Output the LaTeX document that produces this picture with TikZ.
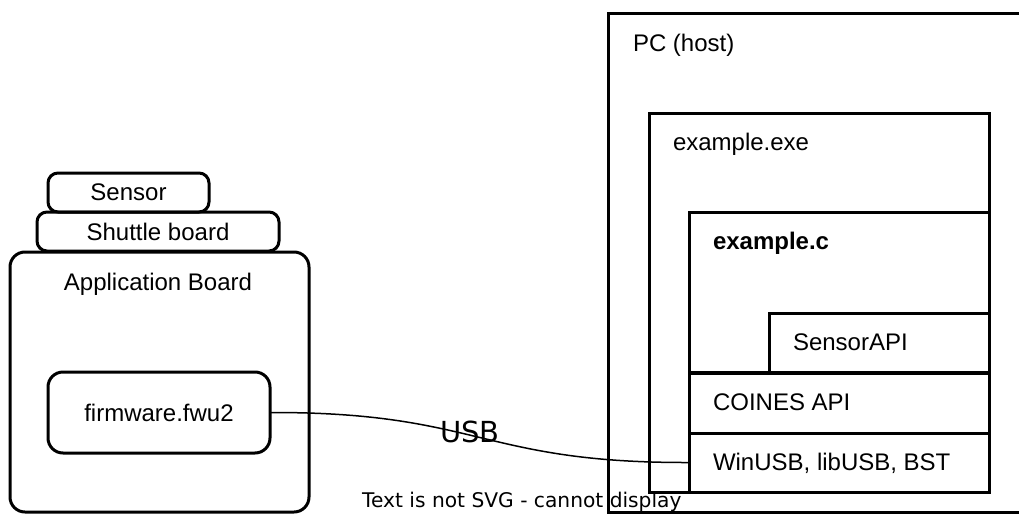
\documentclass[tikz,border=0pt]{standalone}
\usepackage{fontspec}
\setmainfont{Liberation Sans}
\newfontfamily\dejavu{DejaVu Sans}
\begin{document}
\begin{tikzpicture}[x=1pt,y=-1pt,
  box/.style={draw, line width=3pt, inner sep=0pt, outer sep=0pt, anchor=north west, font=\fontsize{24}{28}\selectfont},
  rbox/.style={box, rounded corners=#1},
  lbl/.style={inner sep=0pt, outer sep=0pt, anchor=base west, font=\fontsize{24}{28}\selectfont},
  clbl/.style={lbl, anchor=base},
  wire/.style={draw, line width=1.5pt}]
\clip (0,0) rectangle (1019,514);
% host side
\node[box, minimum width=440pt, minimum height=499pt] (pc) at (608,13) {};
\node[box, minimum width=340pt, minimum height=379pt] (exe) at (649,113) {};
\node[box, minimum width=300pt, minimum height=160pt] (exc) at (689,212) {};
\node[box, minimum width=220pt, minimum height=60pt] (sapi) at (769,313) {};
\node[box, minimum width=300pt, minimum height=60pt] (coines) at (689,373) {};
\node[box, minimum width=300pt, minimum height=59pt] (wusb) at (689,433) {};
\node[lbl] (pct) at (633,51) {PC (host)};
\node[lbl] (exet) at (673,150) {example.exe};
\node[lbl, font=\fontsize{24}{28}\selectfont\bfseries] (exct) at (713,249) {example.c};
\node[lbl] (sapit) at (793,350) {SensorAPI};
\node[lbl] (coinest) at (713,410) {COINES API};
\node[lbl] (wusbt) at (713,470) {WinUSB, libUSB, BST};
% board side
\node[rbox=10pt, minimum width=161pt, minimum height=39pt] (sensor) at (48,173) {Sensor};
\node[rbox=10pt, minimum width=242pt, minimum height=39pt] (shuttle) at (37,212) {Shuttle board};
\node[rbox=15pt, minimum width=299pt, minimum height=260pt] (app) at (10,252) {};
\node[clbl] (appt) at (158,290) {Application Board};
\node[rbox=15pt, minimum width=222pt, minimum height=81pt] (fw) at (48,372) {firmware.fwu2};
% connector
\draw[wire] (fw.east) .. controls (480,412) and (480,463) .. (wusb.west);
\node[inner sep=0pt, anchor=base west, font=\dejavu\fontsize{29}{32}\selectfont] (usb) at (440,442) {USB};
\node[inner sep=0pt, anchor=base west, font=\dejavu\fontsize{20.2}{24}\selectfont] (err) at (362,507) {Text is not SVG - cannot display};
\end{tikzpicture}
\end{document}
